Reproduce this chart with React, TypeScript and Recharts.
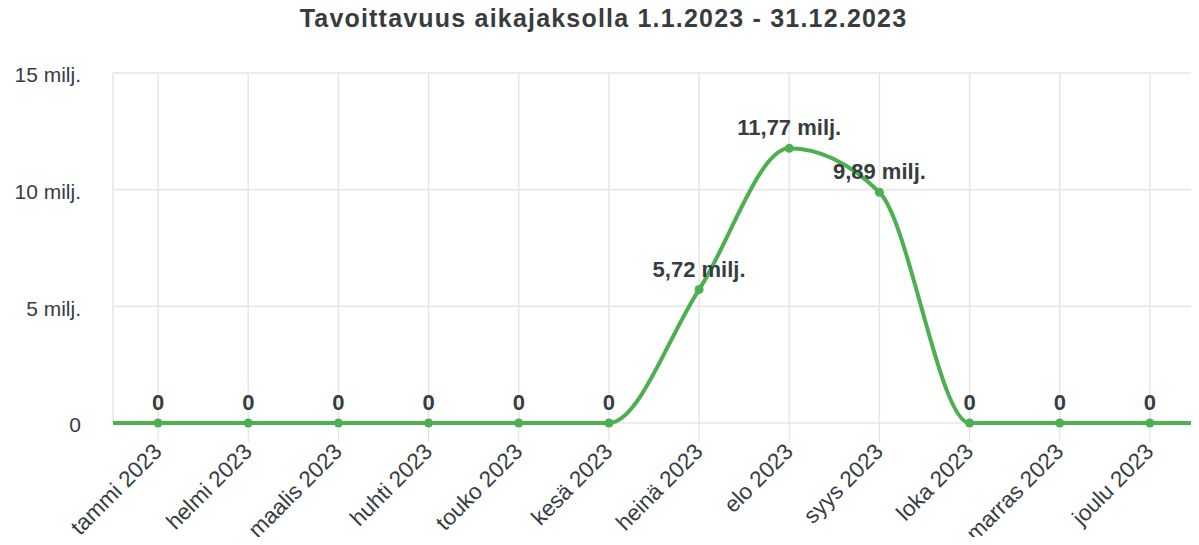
import React from 'react';
import { LineChart, Line, XAxis, YAxis, CartesianGrid, LabelList } from 'recharts';

const months = ['tammi 2023', 'helmi 2023', 'maalis 2023', 'huhti 2023', 'touko 2023', 'kesä 2023', 'heinä 2023', 'elo 2023', 'syys 2023', 'loka 2023', 'marras 2023', 'joulu 2023'];
// reach in millions per month
const reach = [0, 0, 0, 0, 0, 0, 5.72, 11.77, 9.89, 0, 0, 0];
// months just outside the range (dec 2022, jan 2024) are 0 as well; the line runs on to the plot edges
const edgeReach = [0, 0];
const yTicks = [0, 5, 10, 15];

const data = [
  { idx: -1, v: edgeReach[0] },
  ...reach.map((v, i) => ({ idx: i, v })),
  { idx: months.length, v: edgeReach[1] },
];

const GREEN = '#4caf50';
const INK = '#373d3f';
const FONT = '"Liberation Sans", Arial, Helvetica, sans-serif';

const fmt = (v: number) => (v === 0 ? '0' : `${v.toFixed(2).replace('.', ',')} milj.`);

function MonthTick({ x, y, payload }: any) {
  return (
    <g transform={`translate(${x},${y})`}>
      <text x={5} y={9} textAnchor="end" transform="rotate(-45 5 9)" fill={INK} fontSize={22.5} fontFamily={FONT}>
        {months[payload.value]}
      </text>
    </g>
  );
}

function PointLabel({ x, y, value, index }: any) {
  const d = data[index];
  if (!d || d.idx < 0 || d.idx >= months.length) return null;
  return (
    <text x={x} y={y - 13} textAnchor="middle" fill={INK} fontSize={22} fontWeight="bold" fontFamily={FONT}>
      {fmt(value)}
    </text>
  );
}

function PointDot({ cx, cy, payload }: any) {
  if (payload.idx < 0 || payload.idx >= months.length) return null;
  return <circle cx={cx} cy={cy} r={4.5} fill={GREEN} />;
}

export default function App() {
  return (
    <div style={{ margin: -8, position: 'relative', width: 1199, height: 545, background: '#fff' }}>
      <div
        style={{
          position: 'absolute', left: 0, top: 4, width: 1207, textAlign: 'center',
          fontFamily: FONT, fontWeight: 'bold', fontSize: 25, letterSpacing: 1.2, color: INK,
        }}
      >
        Tavoittavuus aikajaksolla 1.1.2023 - 31.12.2023
      </div>
      <LineChart width={1199} height={545} data={data} margin={{ top: 73, right: 4, left: 0, bottom: 0 }}>
        <CartesianGrid stroke="#e6e6ea" strokeWidth={1.5} />
        <XAxis
          dataKey="idx"
          type="number"
          domain={[-0.5, months.length - 0.5]}
          ticks={months.map((_, i) => i)}
          allowDataOverflow
          height={122}
          tickSize={19}
          tickMargin={2}
          axisLine={false}
          stroke="#e0e0e3"
          tick={<MonthTick />}
          interval={0}
        />
        <YAxis
          domain={[0, 15]}
          ticks={yTicks}
          width={113}
          axisLine={false}
          tickLine={false}
          tickSize={0}
          tickMargin={32}
          tick={{ fill: INK, fontSize: 21, fontFamily: FONT, dy: 2 }}
          tickFormatter={(v: number) => (v === 0 ? '0' : `${v} milj.`)}
        />
        <Line
          type="monotone"
          dataKey="v"
          stroke={GREEN}
          strokeWidth={4}
          dot={<PointDot />}
          activeDot={false}
          isAnimationActive={false}
        >
          <LabelList dataKey="v" content={<PointLabel />} />
        </Line>
      </LineChart>
    </div>
  );
}
